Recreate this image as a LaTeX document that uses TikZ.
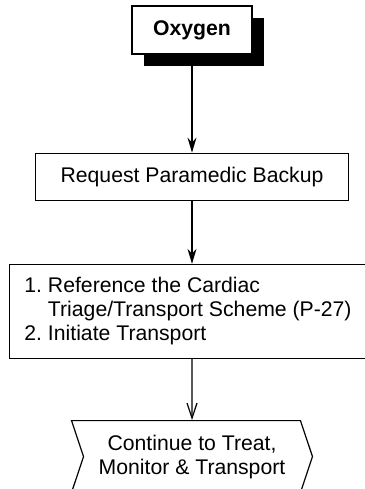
\documentclass[tikz,border=0pt]{standalone}
\usepackage{fontspec}
\setmainfont{Liberation Sans}
\usetikzlibrary{positioning, shapes.symbols, shadows, arrows.meta}

\begin{document}
\begin{tikzpicture}[
    font=\fontsize{10.6}{12}\selectfont,
    node distance=1cm,
    shadowbox/.style={rectangle, draw, fill=white, line width=0.6pt, minimum width=60pt, minimum height=24pt, drop shadow={shadow xshift=6pt, shadow yshift=-6pt, fill=black, opacity=1}},
    stepbox/.style={rectangle, draw, line width=0.6pt, minimum width=156.5pt, minimum height=23.5pt},
    planbox/.style={rectangle, draw, line width=0.6pt, minimum width=176pt, minimum height=47pt, align=left, inner xsep=7.5pt},
    endbox/.style={signal, signal from=west and east, signal pointer angle=143, draw, line width=0.6pt, minimum width=120.5pt, minimum height=36pt, align=center},
    arrow/.style={line width=0.6pt, -{Stealth[length=7.5pt,width=4.5pt]}},
    openarrow/.style={line width=0.6pt, -{Straight Barb[length=7.5pt,width=5pt]}}
  ]

  \useasboundingbox (0,0) rectangle (182.5pt,-244.5pt);

  \node (oxygen) [shadowbox] at (96pt,-15pt) {\textbf{Oxygen}};
  \node (backup) [stepbox, below=49pt of oxygen] {Request Paramedic Backup};
  \node (transport) [planbox, below=31.5pt of backup, xshift=-2pt] {%
    \begin{tabular}{@{}l@{\ }l@{}}
      1. & Reference the Cardiac\\
         & Triage/Transport Scheme (P-27)\\
      2. & Initiate Transport
    \end{tabular}};
  \node (continue) [endbox, below=30.5pt of transport, xshift=2pt] {Continue to Treat,\\Monitor \& Transport};

  \draw[arrow] (oxygen) -- (backup);
  \draw[arrow] (backup) -- (backup |- transport.north);
  \draw[openarrow] (transport.south -| backup) -- (continue);

\end{tikzpicture}
\end{document}
